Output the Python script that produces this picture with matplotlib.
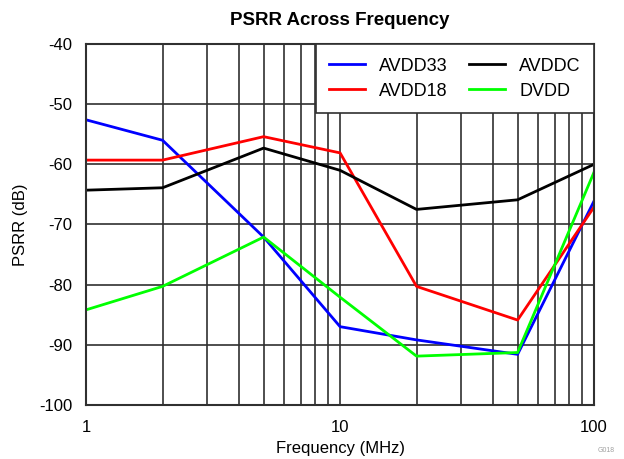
import matplotlib
matplotlib.use("Agg")
import matplotlib.pyplot as plt
from matplotlib.ticker import FixedLocator, NullFormatter

plt.rcParams['font.family'] = ['Liberation Sans', 'DejaVu Sans']
plt.rcParams['axes.unicode_minus'] = False

freq = [1, 2, 5, 10, 20, 50, 100]
avdd33 = [-52.6, -56.0, -72.1, -87.0, -89.2, -91.6, -66.1]
avdd18 = [-59.3, -59.3, -55.4, -58.1, -80.3, -85.9, -67.1]
avddc = [-64.3, -63.9, -57.3, -61.0, -67.5, -65.9, -60.0]
dvdd = [-84.2, -80.3, -72.1, -82.1, -91.9, -91.3, -61.3]

fig = plt.figure(figsize=(6.24, 4.59), dpi=100)
ax = fig.add_axes([0.138, 0.118, 0.814, 0.786])

ax.plot(freq, avdd33, color='#0000ff', lw=2, label='AVDD33')
ax.plot(freq, avdd18, color='#ff0000', lw=2, label='AVDD18')
ax.plot(freq, avddc, color='#000000', lw=2, label='AVDDC')
ax.plot(freq, dvdd, color='#00ff00', lw=2, label='DVDD')

ax.set_xscale('log')
ax.set_xlim(1, 100)
ax.set_ylim(-100, -40)
ax.set_yticks(range(-100, -39, 10))
ax.set_xticks([1, 10, 100])
ax.set_xticklabels(['1', '10', '100'])
ax.xaxis.set_minor_locator(FixedLocator([m * d for d in (1, 10) for m in range(2, 10)]))
ax.xaxis.set_minor_formatter(NullFormatter())
ax.grid(True, which='both', color='#303030', lw=1.2)
ax.tick_params(which='both', length=0, labelsize=12)
ax.tick_params(axis='x', pad=11)
ax.tick_params(axis='y', pad=10)
for s in ax.spines.values():
    s.set_color('#303030')
    s.set_linewidth(1.5)

ax.set_xlabel('Frequency (MHz)', fontsize=12, labelpad=4)
ax.set_ylabel('PSRR (dB)', fontsize=12, labelpad=8)
ax.set_title('PSRR Across Frequency', fontsize=13.5, fontweight='bold', pad=14)

leg = ax.legend(loc='upper right', ncol=2, fontsize=13, frameon=True, fancybox=False,
                borderaxespad=0, handlelength=1.95, columnspacing=1.2, handletextpad=0.8,
                labelspacing=0.45, borderpad=0.75)
leg.get_frame().set_edgecolor('#303030')
leg.get_frame().set_linewidth(1.2)
leg.get_frame().set_alpha(1)

fig.text(0.985, 0.01, 'G018', fontsize=5, color='#a0a0a0', ha='right', va='bottom')

fig.savefig('out.png', dpi=100)
